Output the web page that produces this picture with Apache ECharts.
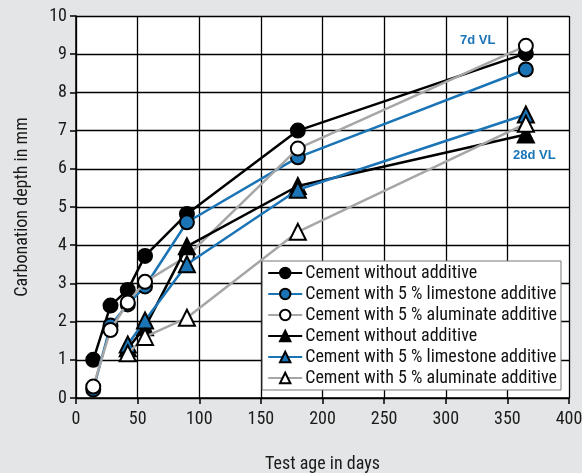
<!DOCTYPE html>
<html><head><meta charset="utf-8">
<script src="https://cdn.jsdelivr.net/npm/echarts@6/dist/echarts.min.js"></script>
<style>html,body{margin:0;padding:0;background:#e4e5e6;}#c{width:582px;height:473px;}</style>
</head><body><div id="c"></div>
<script>
const days7 = [14, 28, 42, 56, 90, 180, 365];
const days28 = [42, 56, 90, 180, 365];
const noAdd7 = [1.0, 2.42, 2.83, 3.72, 4.82, 7.0, 9.02];
const lime7 = [0.22, 1.9, 2.45, 2.92, 4.6, 6.3, 8.6];
const alum7 = [0.3, 1.78, 2.5, 3.04, 3.71, 6.53, 9.22];
const noAdd28 = [1.3, 1.85, 3.97, 5.55, 6.9];
const lime28 = [1.4, 2.03, 3.5, 5.45, 7.42];
const alum28 = [1.17, 1.6, 2.1, 4.35, 7.18];
const names = ['Cement without additive', 'Cement with 5 % limestone additive', 'Cement with 5 % aluminate additive'];
const xTicks = [0, 50, 100, 150, 200, 250, 300, 350, 400];
const yTicks = [0, 1, 2, 3, 4, 5, 6, 7, 8, 9, 10];

const FONT = "'Liberation Sans Narrow', 'Roboto Condensed', 'Liberation Sans', sans-serif";
const BLUE = '#1a74b5', GRAY = '#a6a6a6';
const pairs = (xs, ys) => xs.map((x, i) => [x, ys[i]]);

function mk(idx, name, xs, ys, lineColor, fill, symbol) {
  return {
    type: 'line', name: name, id: 's' + idx, data: pairs(xs, ys),
    symbol: symbol, symbolSize: symbol === 'circle' ? 14 : 16,
    lineStyle: { color: lineColor, width: 2.5 },
    itemStyle: { color: fill, borderColor: '#000', borderWidth: 2 },
    z: 2 + idx, animation: false
  };
}

const series = [
  mk(0, names[0], days7, noAdd7, '#000', '#000', 'circle'),
  mk(1, names[1], days7, lime7, BLUE, BLUE, 'circle'),
  mk(2, names[2], days7, alum7, GRAY, '#fff', 'circle'),
  mk(3, names[0] + ' ', days28, noAdd28, '#000', '#000', 'triangle'),
  mk(4, names[1] + ' ', days28, lime28, BLUE, BLUE, 'triangle'),
  mk(5, names[2] + ' ', days28, alum28, GRAY, '#fff', 'triangle')
];

const chart = echarts.init(document.getElementById('c'), null, { renderer: 'canvas' });
chart.setOption({
  backgroundColor: '#e4e5e6',
  animation: false,
  grid: { left: 76, right: 13, top: 16, bottom: 75, show: true, backgroundColor: '#fff', borderWidth: 0,
          containLabel: false, outerBoundsMode: 'none' },
  xAxis: {
    type: 'value', min: xTicks[0], max: xTicks[xTicks.length - 1], interval: 50,
    name: 'Test age in days', nameLocation: 'middle', nameGap: 57,
    nameTextStyle: { fontFamily: FONT, fontSize: 18, color: '#1a1a1a' },
    axisLine: { show: true, lineStyle: { color: '#000', width: 1.5 } },
    axisTick: { show: true, length: 6, lineStyle: { color: '#000', width: 1.5 } },
    axisLabel: { fontFamily: FONT, fontSize: 18, color: '#1a1a1a', margin: 12 },
    splitLine: { show: true, lineStyle: { color: '#000', width: 1.3 } }
  },
  yAxis: {
    type: 'value', min: yTicks[0], max: yTicks[yTicks.length - 1], interval: 1,
    name: 'Carbonation depth in mm', nameLocation: 'middle', nameGap: 45,
    nameTextStyle: { fontFamily: FONT, fontSize: 18, color: '#1a1a1a' },
    axisLine: { show: true, lineStyle: { color: '#000', width: 1.5 } },
    axisTick: { show: true, length: 6, lineStyle: { color: '#000', width: 1.5 } },
    axisLabel: { fontFamily: FONT, fontSize: 18, color: '#1a1a1a', margin: 9 },
    splitLine: { show: true, lineStyle: { color: '#000', width: 1.3 } }
  },
  legend: {
    orient: 'vertical', right: 21, bottom: 83,
    backgroundColor: '#fff', borderColor: '#777', borderWidth: 1,
    padding: [3, 4, 3, 5], itemGap: 3, itemWidth: 34, itemHeight: 13,
    textStyle: { fontFamily: FONT, fontSize: 18, color: '#111', padding: [0, 0, 0, -2] },
    formatter: n => n.trim(),
    data: series.map(s => s.name)
  },
  graphic: [
    { type: 'text', left: 460, top: 34, style: { text: '7d VL', fill: BLUE, font: "bold 13px 'Liberation Sans', sans-serif" } },
    { type: 'text', left: 513, top: 149, style: { text: '28d VL', fill: BLUE, font: "bold 13px 'Liberation Sans', sans-serif" } }
  ],
  series: series
});
</script></body></html>
